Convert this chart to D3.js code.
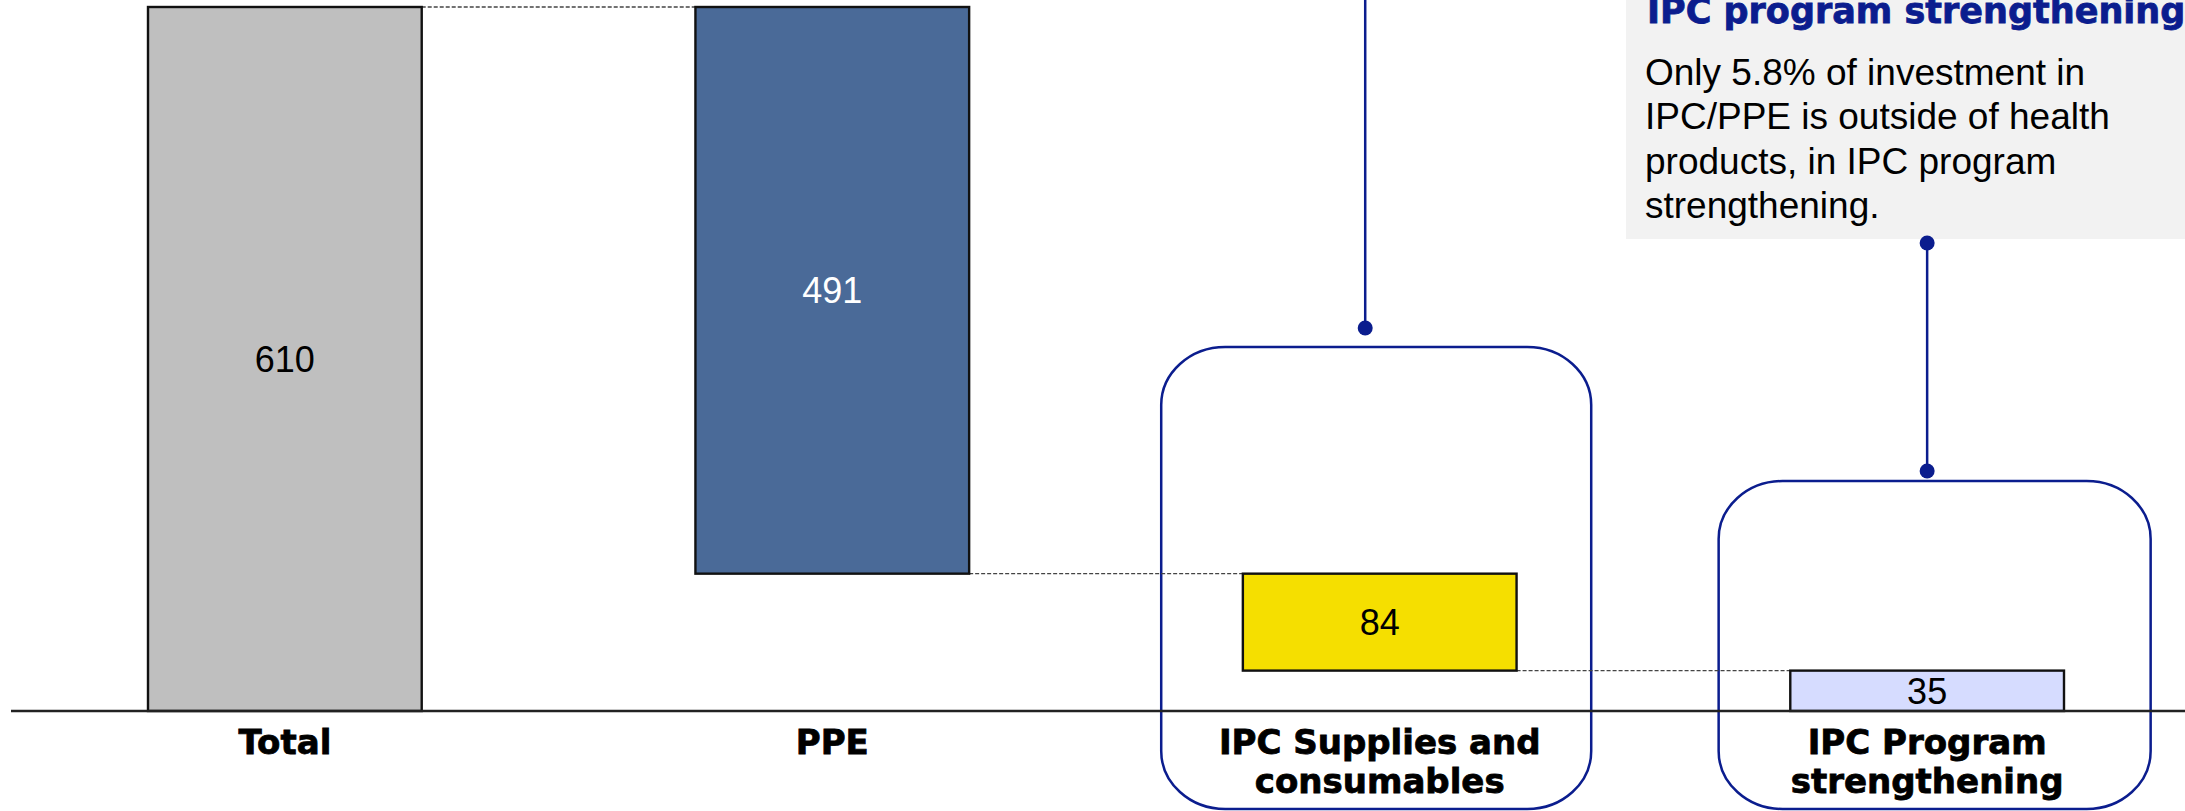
<!DOCTYPE html>
<html>
<head>
<meta charset="utf-8">
<script src="https://cdn.jsdelivr.net/npm/d3@7"></script>
<style>
  html, body { margin: 0; padding: 0; background: #fff; }
  svg { display: block; }
</style>
</head>
<body>
<div id="chart"></div>
<script>
// Data

var categories = ["Total", "PPE", "IPC Supplies and consumables", "IPC Program strengthening"];
var labelLines = [["Total"], ["PPE"], ["IPC Supplies and", "consumables"], ["IPC Program", "strengthening"]];
var values = [610, 491, 84, 35];

var barColors = ["#bfbfbf", "#4a6a98", "#f5df00", "#d6dcff"];
var valueColors = ["#000", "#fff", "#000", "#000"];

var noteTitle = "IPC program strengthening";
var noteLines = ["Only 5.8% of investment in", "IPC/PPE is outside of health", "products, in IPC program", "strengthening."];

var width = 2185, height = 811;
var navy = "#0b1d8e";

// waterfall: first bar is the total, the rest step down from it
var level = 0;
var steps = values.map(function(v, i) {
  if (i === 0) { level = v; return {lo: 0, hi: v}; }
  var s = {lo: level - v, hi: level};
  level = level - v;
  return s;
});

var x = d3.scaleBand()
    .domain(categories)
    .range([148, 2064])
    .paddingInner(0.5)
    .paddingOuter(0);

var y = d3.scaleLinear()
    .domain([0, values[0]])
    .range([711, 7]);

var svg = d3.select("#chart").append("svg")
    .attr("width", width)
    .attr("height", height);

// note box top right
var note = svg.append("g");
note.append("rect")
    .attr("x", 1626)
    .attr("y", -10)
    .attr("width", width - 1626 + 10)
    .attr("height", 249)
    .attr("fill", "#f2f2f2");

note.append("text")
    .attr("x", 1647)
    .attr("y", 23)
    .attr("fill", navy)
    .attr("stroke", navy)
    .attr("stroke-width", 0.8)
    .style("font-family", "'DejaVu Sans', sans-serif")
    .style("font-weight", "bold")
    .style("font-size", "35px")
    .text(noteTitle);

note.append("text")
    .attr("fill", "#000")
    .style("font-family", "'Liberation Sans', Arial, sans-serif")
    .style("font-size", "37px")
    .selectAll("tspan")
    .data(noteLines)
    .enter().append("tspan")
    .attr("x", 1645)
    .attr("y", function(d, i) { return 85 + i * 44.3; })
    .text(function(d) { return d; });

// rounded frames round the two IPC categories
var frames = [
  {cat: categories[2], dx: -3.5, w: 430, top: 347},
  {cat: categories[3], dx: 7.5, w: 432, top: 481}
];

frames.forEach(function(f) {
  var cx = x(f.cat) + x.bandwidth() / 2 + f.dx;
  svg.append("rect")
      .attr("x", cx - f.w / 2)
      .attr("y", f.top)
      .attr("width", f.w)
      .attr("height", 809 - f.top)
      .attr("rx", 64)
      .attr("ry", 58)
      .attr("fill", "none")
      .attr("stroke", navy)
      .attr("stroke-width", 2.5);
});

// connectors
var lx1 = x(categories[2]) + x.bandwidth() / 2 - 14.5;
svg.append("line")
    .attr("x1", lx1).attr("x2", lx1)
    .attr("y1", 0).attr("y2", 328)
    .attr("stroke", navy).attr("stroke-width", 2.5);
svg.append("circle")
    .attr("cx", lx1).attr("cy", 328).attr("r", 7.5)
    .attr("fill", navy);

var lx2 = x(categories[3]) + x.bandwidth() / 2;
svg.append("line")
    .attr("x1", lx2).attr("x2", lx2)
    .attr("y1", 243).attr("y2", 471)
    .attr("stroke", navy).attr("stroke-width", 2.5);
svg.selectAll(".dot2")
    .data([243, 471])
    .enter().append("circle")
    .attr("cx", lx2).attr("cy", function(d) { return d; }).attr("r", 7.5)
    .attr("fill", navy);

// dashed step lines between bars
svg.append("g").selectAll("line")
    .data(categories.slice(1))
    .enter().append("line")
    .attr("x1", function(d, i) { return x(categories[i]) + x.bandwidth(); })
    .attr("x2", function(d) { return x(d); })
    .attr("y1", function(d, i) { return y(steps[i + 1].hi); })
    .attr("y2", function(d, i) { return y(steps[i + 1].hi); })
    .attr("stroke", "#444")
    .attr("stroke-width", 1.4)
    .attr("stroke-dasharray", "4,2");

// bars
svg.append("g").selectAll("rect")
    .data(categories)
    .enter().append("rect")
    .attr("x", function(d) { return x(d); })
    .attr("y", function(d, i) { return y(steps[i].hi); })
    .attr("width", x.bandwidth())
    .attr("height", function(d, i) { return y(steps[i].lo) - y(steps[i].hi); })
    .attr("fill", function(d, i) { return barColors[i]; })
    .attr("stroke", "#111")
    .attr("stroke-width", 2.4);

// value labels
svg.append("g").selectAll("text")
    .data(categories)
    .enter().append("text")
    .attr("x", function(d) { return x(d) + x.bandwidth() / 2; })
    .attr("y", function(d, i) { return (y(steps[i].lo) + y(steps[i].hi)) / 2; })
    .attr("dy", "0.36em")
    .attr("text-anchor", "middle")
    .attr("fill", function(d, i) { return valueColors[i]; })
    .style("font-family", "'Liberation Sans', Arial, sans-serif")
    .style("font-size", "36px")
    .text(function(d, i) { return values[i]; });

// x axis
var xAxis = d3.axisBottom(x).tickSize(0).tickFormat("");
var axisG = svg.append("g")
    .attr("class", "axis x-axis")
    .attr("transform", "translate(0," + y(0) + ")")
    .call(xAxis);
axisG.select(".domain").remove();

svg.append("line")
    .attr("x1", 11).attr("x2", width)
    .attr("y1", y(0)).attr("y2", y(0))
    .attr("stroke", "#222")
    .attr("stroke-width", 2.5);

axisG.selectAll(".tick text").remove();
axisG.selectAll(".tick").append("text")
    .attr("text-anchor", "middle")
    .attr("fill", "#000")
    .attr("stroke", "#000")
    .attr("stroke-width", 0.8)
    .style("font-family", "'DejaVu Sans', sans-serif")
    .style("font-weight", "bold")
    .style("font-size", "34px")
    .each(function(d, i) {
      var t = d3.select(this);
      labelLines[i].forEach(function(line, j) {
        t.append("tspan")
            .attr("x", 0)
            .attr("y", 43 + j * 39)
            .text(line);
      });
    });
</script>
</body>
</html>
